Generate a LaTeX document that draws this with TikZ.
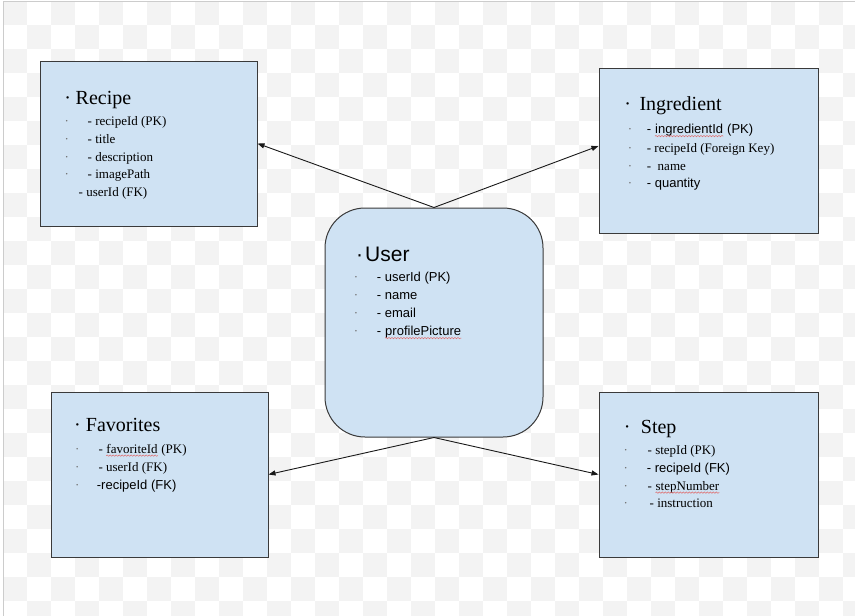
\documentclass[tikz,border=0pt]{standalone}
\usepackage{fontspec}
\setmainfont{Liberation Serif}
\setsansfont{Liberation Sans}
\usetikzlibrary{arrows.meta,decorations.pathmorphing}
\definecolor{boxfill}{HTML}{CFE2F3}
\definecolor{boxline}{HTML}{3A3A3A}
\definecolor{checker}{HTML}{F3F3F3}
\definecolor{framec}{HTML}{CCCCCC}
\definecolor{squigc}{HTML}{E06666}
\definecolor{dotc}{HTML}{707070}
\begin{document}
\begin{tikzpicture}[x=1pt,y=-1pt,
  box/.style={draw=boxline,fill=boxfill,line width=1pt,inner sep=0pt},
  conn/.style={draw=black!90,line width=0.9pt,-{Triangle[length=7pt,width=5pt]}},
  tx/.style={anchor=base west,inner sep=0pt,font=\fontsize{13}{15}\selectfont},
  sx/.style={anchor=base west,inner sep=0pt,font=\sffamily\fontsize{13}{15}\selectfont},
  ttl/.style={anchor=base west,inner sep=0pt,font=\fontsize{20}{24}\selectfont},
  sttl/.style={anchor=base west,inner sep=0pt,font=\sffamily\fontsize{21}{25}\selectfont},
  tdot/.style={anchor=base,inner sep=0pt,font=\fontsize{20}{24}\selectfont},
  stdot/.style={anchor=base,inner sep=0pt,font=\sffamily\fontsize{21}{25}\selectfont},
  idot/.style={anchor=base,inner sep=0pt,text=dotc,font=\fontsize{13}{15}\selectfont},
  squig/.style={draw=squigc,line width=0.5pt,decorate,decoration={snake,amplitude=0.7pt,segment length=3pt}}
]
\useasboundingbox (0,0) rectangle (855,616);
\fill[white] (0,0) rectangle (855,616);
% checkerboard background
\begin{scope}
\clip (3,1) rectangle (855,616);
\foreach \i in {0,...,35}{
  \foreach \j in {0,...,25}{
    \pgfmathtruncatemacro\chk{mod(\i+\j,2)}
    \ifnum\chk=0
      \fill[checker] ({3+24*\i},{1+24*\j}) rectangle ++(24,24);
    \fi
  }
}
\end{scope}
\draw[framec,line width=1pt] (3,616) -- (3,1.5) -- (855,1.5);

% boxes
\node[box,minimum width=217pt,minimum height=165pt] (recipe) at (148.5,143.5) {};
\node[box,minimum width=219pt,minimum height=165pt] (ingredient) at (708.5,150.5) {};
\node[box,rounded corners=40pt,minimum width=218pt,minimum height=229pt] (user) at (434,322.5) {};
\node[box,minimum width=217pt,minimum height=165pt] (favorites) at (159.5,474.5) {};
\node[box,minimum width=219pt,minimum height=165pt] (step) at (708.5,474.5) {};

% connectors
\draw[conn] (user.north) -- (recipe.east);
\draw[conn] (user.north) -- ([yshift=4.5pt]ingredient.west);
\draw[conn] (user.south) -- (favorites.east);
\draw[conn] (user.south) -- (step.west);

% Recipe
\node[tdot] (rd0) at (67.7,104) {·};
\node[ttl] (rt) at (75.5,104) {Recipe};
\node[idot] (rd1) at (66.7,125) {·};
\node[idot] (rd2) at (66.7,143) {·};
\node[idot] (rd3) at (66.7,161) {·};
\node[idot] (rd4) at (66.7,178.5) {·};
\node[tx] (r1) at (87.5,125) {- recipeId (PK)};
\node[tx] (r2) at (87.5,143) {- title};
\node[tx] (r3) at (87.5,161) {- description};
\node[tx] (r4) at (87.5,178.5) {- imagePath};
\node[tx] (r5) at (78.5,196.5) {- userId (FK)};

% Ingredient
\node[tdot] (gd0) at (627.7,110.7) {·};
\node[ttl] (gt) at (639.3,110.7) {Ingredient};
\node[idot] (gd1) at (630,133.5) {·};
\node[idot] (gd2) at (630,152) {·};
\node[idot] (gd3) at (630,170) {·};
\node[idot] (gd4) at (630,187.5) {·};
\node[sx] (g1a) at (646.7,133.5) {-};
\node[sx] (g1b) at ([xshift=3.6pt]g1a.base east) {ingredientId};
\node[sx] (g1c) at ([xshift=3.6pt]g1b.base east) {(PK)};
\draw[squig] ([yshift=-2.6pt]g1b.base west) -- ([yshift=-2.6pt]g1b.base east);
\node[tx] (g2) at (646.7,152) {- recipeId (Foreign Key)};
\node[tx] (g3) at (646.7,170) {-\ \ name};
\node[sx] (g4) at (646.7,187.5) {- quantity};

% User
\node[stdot] (ud0) at (359.5,261.7) {·};
\node[sttl] (ut) at (365,261.7) {User};
\node[idot] (ud1) at (356,281.5) {·};
\node[idot] (ud2) at (356,299.5) {·};
\node[idot] (ud3) at (356,317.5) {·};
\node[idot] (ud4) at (356,335.5) {·};
\node[sx] (u1) at (376.7,281.5) {- userId (PK)};
\node[sx] (u2) at (376.7,299.5) {- name};
\node[sx] (u3) at (376.7,317.5) {- email};
\node[sx] (u4a) at (376.7,335.5) {-};
\node[sx] (u4b) at ([xshift=3.6pt]u4a.base east) {profilePicture};
\draw[squig] ([yshift=-2.6pt]u4b.base west) -- ([yshift=-2.6pt]u4b.base east);

% Favorites
\node[tdot] (fd0) at (77.5,431.7) {·};
\node[ttl] (ft) at (85.7,431.7) {Favorites};
\node[idot] (fd1) at (77.3,453) {·};
\node[idot] (fd2) at (77.3,471) {·};
\node[idot] (fd3) at (77.3,489) {·};
\node[tx] (f1a) at (98.3,453) {-};
\node[tx] (f1b) at ([xshift=3.25pt]f1a.base east) {favoriteId};
\node[tx] (f1c) at ([xshift=3.25pt]f1b.base east) {(PK)};
\draw[squig] ([yshift=-2.6pt]f1b.base west) -- ([yshift=-2.6pt]f1b.base east);
\node[tx] (f2) at (98.3,471) {- userId (FK)};
\node[sx] (f3) at (96.7,489) {-recipeId (FK)};

% Step
\node[tdot] (sd0) at (627.3,433.3) {·};
\node[ttl] (st) at (640.7,433.3) {Step};
\node[idot] (sd1) at (625.7,454) {·};
\node[idot] (sd2) at (625.7,472) {·};
\node[idot] (sd3) at (625.7,490) {·};
\node[idot] (sd4) at (625.7,507.5) {·};
\node[tx] (s1) at (647.5,454) {- stepId (PK)};
\node[sx] (s2) at (646.7,472) {- recipeId (FK)};
\node[tx] (s3a) at (647.5,490) {-};
\node[tx] (s3b) at ([xshift=3.25pt]s3a.base east) {stepNumber};
\draw[squig] ([yshift=-2.6pt]s3b.base west) -- ([yshift=-2.6pt]s3b.base east);
\node[tx] (s4) at (649.5,507.5) {- instruction};
\end{tikzpicture}
\end{document}
